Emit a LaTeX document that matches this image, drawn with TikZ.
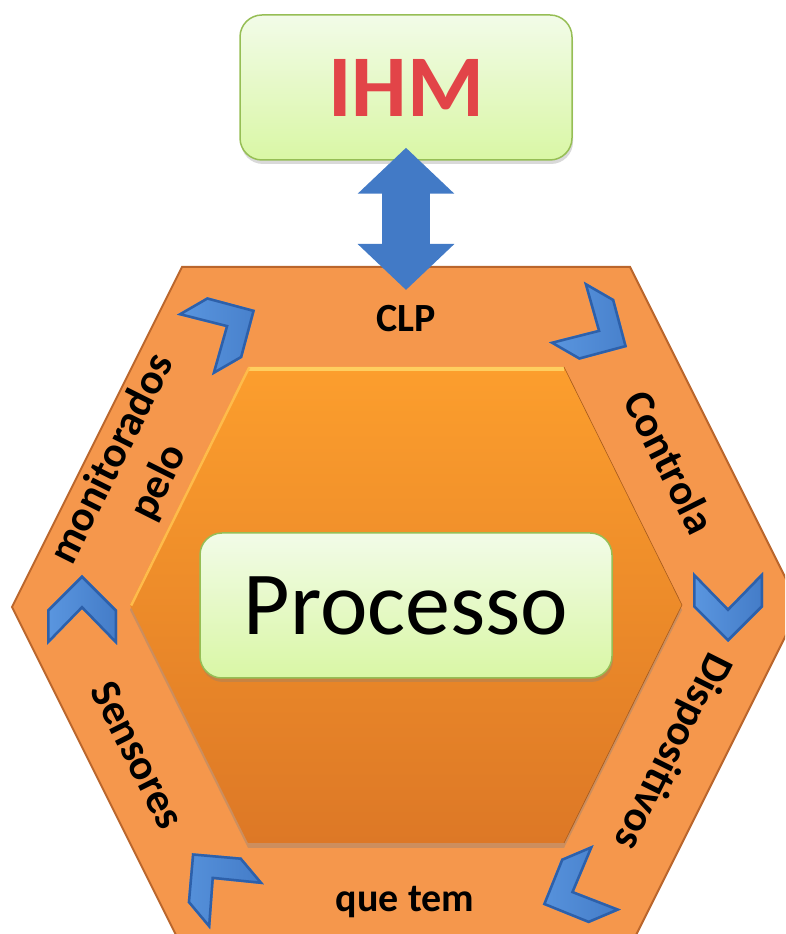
\documentclass[tikz,border=0pt]{standalone}
\usepackage{fontspec}
\setmainfont{Carlito}
\usetikzlibrary{arrows.meta,shadows,calc}

\definecolor{bandorange}{RGB}{245,151,76}
\definecolor{bandedge}{RGB}{186,102,44}
\definecolor{coretop}{RGB}{252,158,45}
\definecolor{corebot}{RGB}{221,120,38}
\definecolor{coreglow}{RGB}{255,206,95}
\definecolor{boxtop}{RGB}{242,251,232}
\definecolor{boxbot}{RGB}{217,247,165}
\definecolor{boxedge}{RGB}{150,190,85}
\definecolor{arrowblue}{RGB}{66,122,198}
\definecolor{chevlight}{RGB}{92,152,225}
\definecolor{chevdark}{RGB}{45,96,170}
\definecolor{ihmred}{RGB}{226,68,72}

\tikzset{
  ringarrow/.pic={
    \path[clip] (0,35) -- (35,0) -- (35,-35) -- (0,1) -- (-35,-35) -- (-35,0) -- cycle;
    \shade[left color=chevlight, right color=arrowblue] (-40,-40) rectangle (40,40);
    \draw[chevdark, line width=5pt] (0,35) -- (35,0) -- (35,-35) -- (0,1) -- (-35,-35) -- (-35,0) -- cycle;
  }
}

\begin{document}
\begin{tikzpicture}[x=1pt,y=1pt,
  ringlabel/.style={font=\bfseries\fontsize{43}{52}\selectfont, align=center, inner sep=0pt},
  greenbox/.style={draw=boxedge, line width=1.5pt, rounded corners=22pt,
    top color=boxtop, bottom color=boxbot,
    drop shadow={opacity=0.3, shadow xshift=1pt, shadow yshift=-4pt}},
  dblarrow/.style={line width=48pt, arrowblue,
    {Triangle[length=46pt,width=94pt]}-{Triangle[length=46pt,width=94pt]}}
]
\useasboundingbox (0,0) rectangle (785,934);
\clip (0,0) rectangle (785,934);

% outer ring
\filldraw[fill=bandorange, draw=bandedge, line width=2pt]
  (182,667) -- (630,667) -- (800,327) -- (630,-13) -- (182,-13) -- (12,327) -- cycle;

% inner hexagon
\coordinate (c1) at (248,567);
\coordinate (c2) at (564,567);
\coordinate (c3) at (682,329);
\coordinate (c4) at (564,91);
\coordinate (c5) at (248,91);
\coordinate (c6) at (130,329);
\shade[top color=coretop, bottom color=corebot,
  drop shadow={opacity=0.35, shadow xshift=0pt, shadow yshift=-5pt}]
  (c1) -- (c2) -- (c3) -- (c4) -- (c5) -- (c6) -- cycle;
\begin{scope}
  \clip (c1) -- (c2) -- (c3) -- (c4) -- (c5) -- (c6) -- cycle;
  \draw[coreglow, line width=8pt] (c1) -- (c2);
  \draw[coreglow!60!coretop, line width=5pt] (c6) -- (c1);
\end{scope}
\draw[corebot!75!black, line width=0.6pt] (c2) -- (c3) -- (c4);

% boxes
\node[greenbox, minimum width=412pt, minimum height=145pt,
  font=\fontsize{90}{90}\selectfont] (processo) at (406,328.5) {Processo};
\node[greenbox, minimum width=332pt, minimum height=145pt,
  font=\bfseries\fontsize{88}{88}\selectfont, text=ihmred] (ihm) at (406,846.5) {IHM};

% link between IHM and the ring
\coordinate (clp link) at (406,644);
\draw[dblarrow] ([yshift=13pt]ihm.south) -- (clp link);

% ring texts
\node[ringlabel, font=\bfseries\fontsize{40}{48}\selectfont] (clp) at (406,615) {CLP};
\node[ringlabel, rotate=-63.4] (controla) at (670,472) {Controla};
\node[ringlabel, rotate=-116.6] (dispositivos) at (672,183) {Dispositivos};
\node[ringlabel, font=\bfseries\fontsize{40}{48}\selectfont, anchor=base] (quetem) at (405,22) {que tem};
\node[ringlabel, rotate=-63.4] (sensores) at (138,179) {Sensores};
\node[ringlabel, rotate=63.4] (monitorados) at (136,463) {monitorados\\pelo};

% chevrons at the corners
\foreach \px/\py/\ang in {224.7/606.5/-60, 596.7/604.5/-120, 728/327/180,
                          575/43/113, 214.5/54/40, 82/324/0}
  \pic[rotate=\ang] at (\px,\py) {ringarrow};
\end{tikzpicture}
\end{document}
